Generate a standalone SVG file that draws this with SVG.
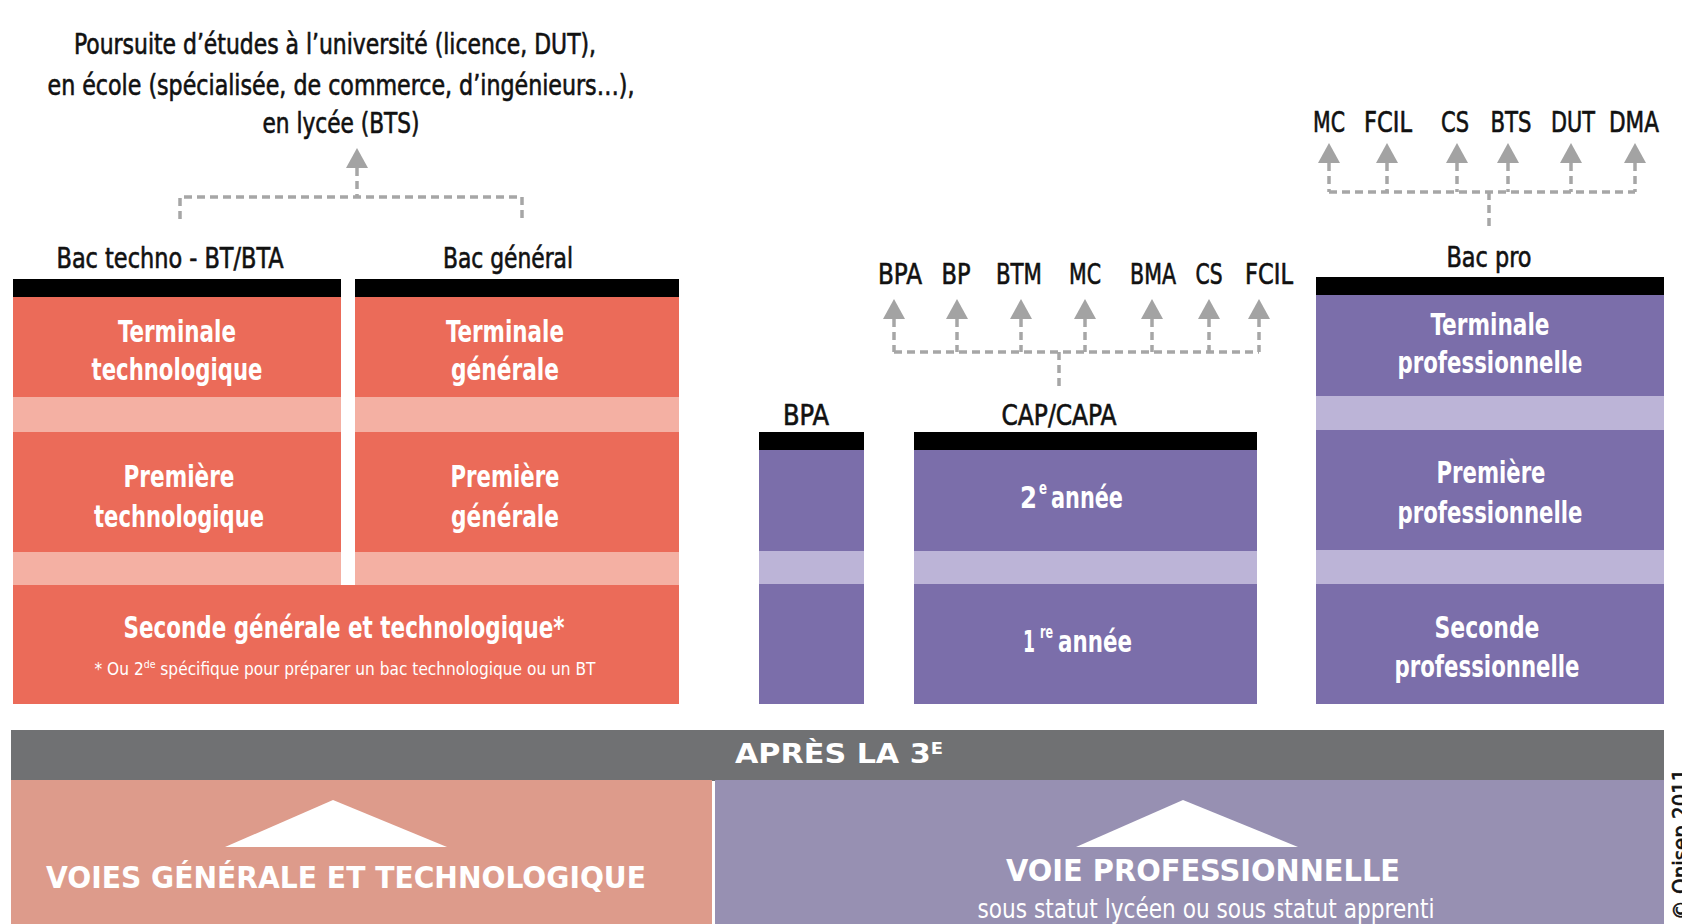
<svg xmlns="http://www.w3.org/2000/svg" xmlns:xlink="http://www.w3.org/1999/xlink" width="1682" height="924" viewBox="0 0 1682 924">
<style>
text{font-family:"Liberation Sans Narrow","DejaVu Sans Condensed","Liberation Sans",sans-serif;text-anchor:middle}
.dk{fill:#111;stroke:#111;stroke-width:0.6}
.wh{fill:#fff;font-weight:bold}
.lbl{font-size:28px}
.box{font-size:30px}
.red{fill:#EB6B59}
.redl{fill:#F4B0A3}
.pur{fill:#7B6EAA}
.purl{fill:#BCB4D7}
.bar{fill:#000}
.dash{fill:none;stroke:#A6A6A6;stroke-width:3.5;stroke-dasharray:8 5}
.ah{fill:#A3A3A3}
.st{text-anchor:start}
</style>
<defs>
<path id="ah" d="M0,0 L-11,20 L11,20 Z"/>
</defs>
<rect width="1682" height="924" fill="#fff"/>

<g id="top-text">
<text class="dk" x="335" y="54" font-size="28" textLength="522" lengthAdjust="spacingAndGlyphs">Poursuite d’études à l’université (licence, DUT),</text>
<text class="dk" x="341" y="95" font-size="28" textLength="587" lengthAdjust="spacingAndGlyphs">en école (spécialisée, de commerce, d’ingénieurs…),</text>
<text class="dk" x="341" y="133" font-size="28" textLength="157" lengthAdjust="spacingAndGlyphs">en lycée (BTS)</text>
</g>

<g id="connectors">
<use href="#ah" x="357" y="148" class="ah"/>
<path class="dash" d="M357,168 V197 M180,219 V197 H522 V219"/>
<g class="ah">
<use href="#ah" x="894" y="299"/><use href="#ah" x="957" y="299"/><use href="#ah" x="1021" y="299"/><use href="#ah" x="1085" y="299"/><use href="#ah" x="1152" y="299"/><use href="#ah" x="1209" y="299"/><use href="#ah" x="1259" y="299"/>
</g>
<path class="dash" d="M894,319 V352 M957,319 V352 M1021,319 V352 M1085,319 V352 M1152,319 V352 M1209,319 V352 M1259,319 V352 M894,352 H1259 M1059,352 V390"/>
<g class="ah">
<use href="#ah" x="1329" y="143"/><use href="#ah" x="1387" y="143"/><use href="#ah" x="1457" y="143"/><use href="#ah" x="1508" y="143"/><use href="#ah" x="1571" y="143"/><use href="#ah" x="1635" y="143"/>
</g>
<path class="dash" d="M1329,163 V192 M1387,163 V192 M1457,163 V192 M1508,163 V192 M1571,163 V192 M1635,163 V192 M1329,192 H1635 M1489,192 V228"/>
</g>

<g id="outcomes-cap" class="dk" font-size="28">
<text x="900" y="284" textLength="44" lengthAdjust="spacingAndGlyphs">BPA</text>
<text x="956" y="284" textLength="29" lengthAdjust="spacingAndGlyphs">BP</text>
<text x="1019" y="284" textLength="46" lengthAdjust="spacingAndGlyphs">BTM</text>
<text x="1085" y="284" textLength="32" lengthAdjust="spacingAndGlyphs">MC</text>
<text x="1153" y="284" textLength="46" lengthAdjust="spacingAndGlyphs">BMA</text>
<text x="1209" y="284" textLength="27" lengthAdjust="spacingAndGlyphs">CS</text>
<text x="1269" y="284" textLength="48" lengthAdjust="spacingAndGlyphs">FCIL</text>
</g>
<g id="outcomes-bacpro" class="dk" font-size="29">
<text x="1329" y="132" textLength="32" lengthAdjust="spacingAndGlyphs">MC</text>
<text x="1388" y="132" textLength="48" lengthAdjust="spacingAndGlyphs">FCIL</text>
<text x="1455" y="132" textLength="28" lengthAdjust="spacingAndGlyphs">CS</text>
<text x="1511" y="132" textLength="41" lengthAdjust="spacingAndGlyphs">BTS</text>
<text x="1573" y="132" textLength="44" lengthAdjust="spacingAndGlyphs">DUT</text>
<text x="1634" y="132" textLength="50" lengthAdjust="spacingAndGlyphs">DMA</text>
</g>

<g id="bac-techno">
<text class="dk lbl" x="170" y="268" textLength="227" lengthAdjust="spacingAndGlyphs">Bac techno - BT/BTA</text>
<rect class="bar" x="13" y="279" width="328" height="19"/>
<rect class="red" x="13" y="297" width="328" height="100"/>
<rect class="redl" x="13" y="397" width="328" height="36"/>
<rect class="red" x="13" y="432" width="328" height="121"/>
<rect class="redl" x="13" y="552" width="328" height="34"/>
<text class="wh box" x="177" y="342" textLength="118" lengthAdjust="spacingAndGlyphs">Terminale</text>
<text class="wh box" x="177" y="380" textLength="171" lengthAdjust="spacingAndGlyphs">technologique</text>
<text class="wh box" x="179" y="487" textLength="111" lengthAdjust="spacingAndGlyphs">Première</text>
<text class="wh box" x="179" y="527" textLength="170" lengthAdjust="spacingAndGlyphs">technologique</text>
</g>

<g id="bac-general">
<text class="dk lbl" x="508" y="268" textLength="130" lengthAdjust="spacingAndGlyphs">Bac général</text>
<rect class="bar" x="355" y="279" width="324" height="19"/>
<rect class="red" x="355" y="297" width="324" height="100"/>
<rect class="redl" x="355" y="397" width="324" height="36"/>
<rect class="red" x="355" y="432" width="324" height="121"/>
<rect class="redl" x="355" y="552" width="324" height="34"/>
<text class="wh box" x="505" y="342" textLength="118" lengthAdjust="spacingAndGlyphs">Terminale</text>
<text class="wh box" x="505" y="380" textLength="108" lengthAdjust="spacingAndGlyphs">générale</text>
<text class="wh box" x="505" y="487" textLength="109" lengthAdjust="spacingAndGlyphs">Première</text>
<text class="wh box" x="505" y="527" textLength="108" lengthAdjust="spacingAndGlyphs">générale</text>
</g>

<g id="seconde-gt">
<rect class="red" x="13" y="585" width="666" height="119"/>
<text class="wh box" x="344" y="638" textLength="441" lengthAdjust="spacingAndGlyphs">Seconde générale et technologique*</text>
<text x="345" y="675" font-size="18" fill="#fff" textLength="501" lengthAdjust="spacingAndGlyphs">* Ou 2<tspan font-size="11" dy="-7">de</tspan><tspan dy="7"> spécifique pour préparer un bac technologique ou un BT</tspan></text>
</g>

<g id="bpa">
<text class="dk lbl" x="806" y="425" textLength="46" lengthAdjust="spacingAndGlyphs">BPA</text>
<rect class="bar" x="759" y="432" width="105" height="19"/>
<rect class="pur" x="759" y="450" width="105" height="102"/>
<rect class="purl" x="759" y="551" width="105" height="33"/>
<rect class="pur" x="759" y="584" width="105" height="120"/>
</g>

<g id="cap">
<text class="dk lbl" x="1059" y="425" textLength="115" lengthAdjust="spacingAndGlyphs">CAP/CAPA</text>
<rect class="bar" x="914" y="432" width="343" height="19"/>
<rect class="pur" x="914" y="450" width="343" height="102"/>
<rect class="purl" x="914" y="551" width="343" height="33"/>
<rect class="pur" x="914" y="584" width="343" height="120"/>
<text class="wh box st" x="1020" y="508" textLength="17" lengthAdjust="spacingAndGlyphs">2</text>
<text class="wh st" x="1039" y="494" font-size="17" textLength="8" lengthAdjust="spacingAndGlyphs">e</text>
<text class="wh box st" x="1051" y="508" textLength="72" lengthAdjust="spacingAndGlyphs">année</text>
<text class="wh box st" x="1023" y="652" textLength="12" lengthAdjust="spacingAndGlyphs">1</text>
<text class="wh st" x="1040" y="638" font-size="17" textLength="13" lengthAdjust="spacingAndGlyphs">re</text>
<text class="wh box st" x="1058" y="652" textLength="74" lengthAdjust="spacingAndGlyphs">année</text>
</g>

<g id="bac-pro">
<text class="dk lbl" x="1489" y="267" textLength="85" lengthAdjust="spacingAndGlyphs">Bac pro</text>
<rect class="bar" x="1316" y="277" width="348" height="19"/>
<rect class="pur" x="1316" y="295" width="348" height="102"/>
<rect class="purl" x="1316" y="396" width="348" height="35"/>
<rect class="pur" x="1316" y="430" width="348" height="121"/>
<rect class="purl" x="1316" y="550" width="348" height="34"/>
<rect class="pur" x="1316" y="584" width="348" height="120"/>
<text class="wh box" x="1490" y="335" textLength="119" lengthAdjust="spacingAndGlyphs">Terminale</text>
<text class="wh box" x="1490" y="373" textLength="185" lengthAdjust="spacingAndGlyphs">professionnelle</text>
<text class="wh box" x="1491" y="483" textLength="109" lengthAdjust="spacingAndGlyphs">Première</text>
<text class="wh box" x="1490" y="523" textLength="185" lengthAdjust="spacingAndGlyphs">professionnelle</text>
<text class="wh box" x="1487" y="638" textLength="105" lengthAdjust="spacingAndGlyphs">Seconde</text>
<text class="wh box" x="1487" y="677" textLength="185" lengthAdjust="spacingAndGlyphs">professionnelle</text>
</g>

<g id="apres-3e">
<rect x="11" y="730" width="1653" height="51" fill="#707173"/>
<text class="wh" x="839" y="763" font-size="27" textLength="208" lengthAdjust="spacingAndGlyphs">APRÈS LA 3<tspan font-size="16" dy="-9">E</tspan></text>
</g>

<g id="voies-gt">
<rect x="11" y="780" width="701" height="144" fill="#DD9B8B"/>
<polygon points="333,800 225,847 447,847" fill="#fff"/>
<text class="wh" x="346" y="888" font-size="30" textLength="600" lengthAdjust="spacingAndGlyphs">VOIES GÉNÉRALE ET TECHNOLOGIQUE</text>
</g>

<g id="voie-pro">
<rect x="715" y="780" width="949" height="144" fill="#9790B2"/>
<polygon points="1183,800 1076,847 1298,847" fill="#fff"/>
<text class="wh" x="1203" y="881" font-size="30" textLength="394" lengthAdjust="spacingAndGlyphs">VOIE PROFESSIONNELLE</text>
<text x="1206" y="918" font-size="26" fill="#fff" textLength="457" lengthAdjust="spacingAndGlyphs">sous statut lycéen ou sous statut apprenti</text>
</g>

<text class="dk" transform="translate(1688,920) rotate(-90)" font-size="22" style="text-anchor:start">© Onisep 2011</text>
</svg>
